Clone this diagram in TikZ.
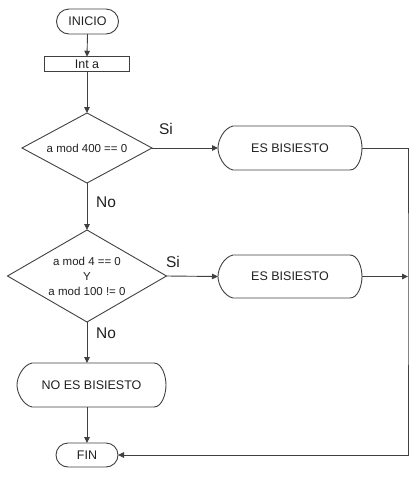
\documentclass[tikz,border=0pt]{standalone}
\usepackage{fontspec}
\setmainfont{Liberation Sans}
\usetikzlibrary{arrows.meta,shapes.misc}
\definecolor{ln}{HTML}{404040}
\definecolor{tx}{HTML}{202020}
\newcommand\dispbox[1]{%
  \draw[lnst] ([xshift=15pt]#1.north west) -- ([xshift=-12pt]#1.north east)
   .. controls ([xshift=-4pt]#1.north east) and ([yshift=9pt]#1.east) .. (#1.east)
   .. controls ([yshift=-9pt]#1.east) and ([xshift=-4pt]#1.south east) .. ([xshift=-12pt]#1.south east)
   -- ([xshift=15pt]#1.south west)
   .. controls ([xshift=6pt,yshift=2pt]#1.south west) and ([yshift=-8pt]#1.west) .. (#1.west)
   .. controls ([yshift=8pt]#1.west) and ([xshift=6pt,yshift=-2pt]#1.north west) .. cycle;}
\newcommand\diabox[1]{%
  \draw[lnst] (#1.north) -- (#1.east) -- (#1.south) -- (#1.west) -- cycle;}
\tikzset{
  lnst/.style={draw=ln,line width=0.9pt},
  arr/.style={lnst,-{Triangle[length=6pt,width=5.5pt]}},
  base/.style={inner sep=0pt,outer sep=0pt,text=tx,font=\fontsize{12.5}{15}\selectfont},
  term/.style={base,rounded rectangle,draw=ln,line width=0.9pt},
  boxn/.style={base,rectangle,draw=ln,line width=0.9pt},
  plain/.style={base,rectangle},
  small/.style={font=\fontsize{11.5}{15}\selectfont,align=center},
  lab/.style={inner sep=0pt,text=tx,font=\fontsize{15.5}{18}\selectfont},
}
\begin{document}
\begin{tikzpicture}[x=1pt,y=-1pt]
\useasboundingbox (0,0) rectangle (420,480);
\node[term,minimum width=62pt,minimum height=25pt] (inicio) at (87.5,21.5) {INICIO};
\node[boxn,minimum width=85pt,minimum height=14.5pt] (inta) at (87,64) {Int a};
\node[plain,small,minimum width=130pt,minimum height=70pt] (d1) at (87,148) {a mod 400 == 0};
\diabox{d1}
\node[plain,small,minimum width=159pt,minimum height=92pt] (d2) at (87,276) {a mod 4 == 0\\Y\\a mod 100 != 0};
\diabox{d2}
\node[plain,minimum width=144pt,minimum height=44pt] (e1) at (290,148) {ES BISIESTO};
\dispbox{e1}
\node[plain,minimum width=144pt,minimum height=43pt] (e2) at (290,276.5) {ES BISIESTO};
\dispbox{e2}
\node[plain,minimum width=149pt,minimum height=44pt] (no) at (91.5,385) {NO ES BISIESTO};
\dispbox{no}
\node[term,minimum width=62pt,minimum height=24pt] (fin) at (87,455) {FIN};
\coordinate (rt) at (408,276.5);
\node[lab] (si1) at (166,129) {Si};
\node[lab] (si2) at (173,262) {Si};
\node[lab] (no1) at (106,202) {No};
\node[lab] (no2) at (106,333) {No};
\draw[arr] (inicio.south) -- (inta.north);
\draw[arr] (inta.south) -- (d1.north);
\draw[arr] (d1.south) -- (d2.north);
\draw[arr] (d2.south) -- (d2.south |- no.north);
\draw[arr] (fin.north |- no.south) -- (fin.north);
\draw[arr] (d1.east) -- (e1.west);
\draw[arr] (d2.east) -- (e2.west);
\draw[arr] (e2.east) -- (rt);
\draw[arr] (e1.east) -| (rt) |- (fin.east);
\end{tikzpicture}
\end{document}
